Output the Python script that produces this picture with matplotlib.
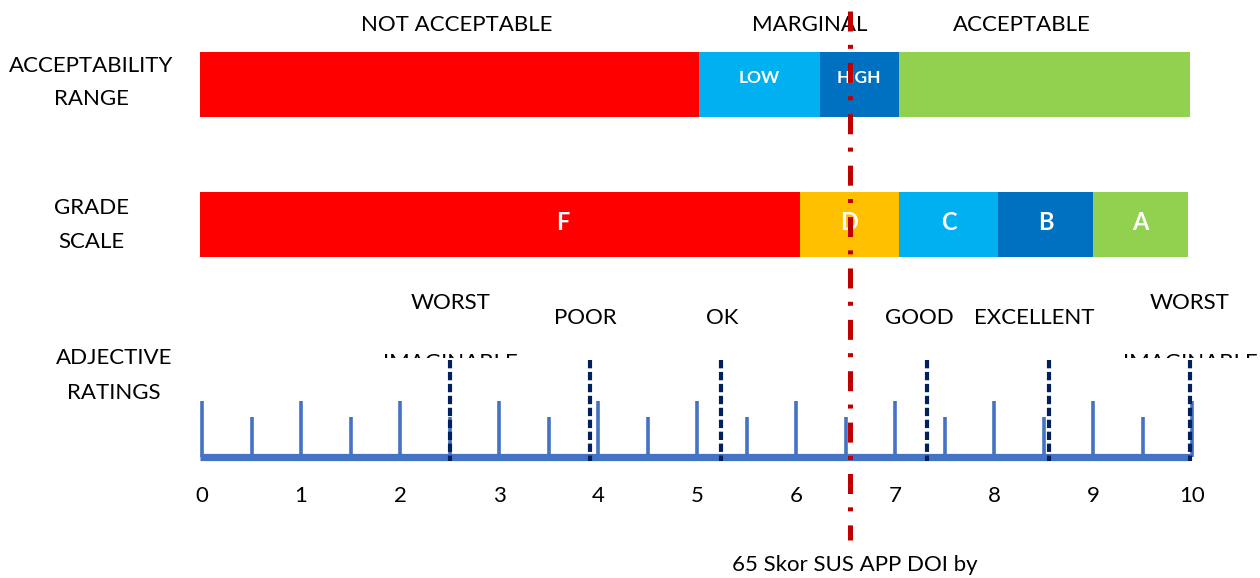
import matplotlib
matplotlib.use("Agg")
import matplotlib.pyplot as plt
from matplotlib.transforms import Bbox

plt.rcParams['font.family'] = ['Lato', 'DejaVu Sans']
plt.rcParams['lines.scale_dashes'] = False

# ---------------- data (SUS score units, 0-100) ----------------
accept_edges = [-0.2, 50.2, 62.4, 70.4, 99.8]
accept_colors = ['#FF0000', '#00B0F0', '#0070C0', '#92D050']
accept_inner = ['', 'LOW', 'HIGH', '']
accept_titles = ['NOT ACCEPTABLE', 'MARGINAL', 'ACCEPTABLE']
accept_title_x = [25.7, 61.4, 82.8]

grade_edges = [-0.2, 60.4, 70.4, 80.4, 90.0, 99.6]
grades = ['F', 'D', 'C', 'B', 'A']
grade_colors = ['#FF0000', '#FFC000', '#00B0F0', '#0070C0', '#92D050']
grade_label_x = [36.4, 65.4, 75.4, 85.2, 94.8]

tick_major = list(range(0, 101, 10))
tick_minor = list(range(5, 100, 10))
tick_labels = [str(v) for v in range(11)]

adjectives = ['WORST', 'POOR', 'OK', 'GOOD', 'EXCELLENT', 'WORST']
adjectives_second = ['IMAGINABLE', '', '', '', '', 'IMAGINABLE']
adjective_line_x = [25.1, 39.2, 52.4, 73.2, 85.6, 99.8]
adjective_label_x = [25.1, 38.7, 52.5, 72.5, 84.1, 99.8]

row_titles = [['ACCEPTABILITY', 'RANGE'], ['GRADE', 'SCALE'], ['ADJECTIVE', 'RATINGS']]

app_score = 65.5
app_label = '65 Skor SUS APP DOI by'

# ---------------- figure ----------------
W, H, DPI = 1260, 578, 100
fig = plt.figure(figsize=(W / DPI, H / DPI), dpi=DPI)
ax = fig.add_axes([0, 0, 1, 1])
PX0, PXU = 202.0, 9.9  # pixel of score 0, pixels per score unit
ax.set_xlim((0 - PX0) / PXU, (W - PX0) / PXU)
ax.set_ylim(H, 0)
ax.axis('off')

FS = 16
txt = dict(fontsize=FS, color='black', ha='center', va='center')

# row titles (left)
title_x = [(91.5 - PX0) / PXU, (91 - PX0) / PXU, (114 - PX0) / PXU]
title_y = [(66, 99), (208, 242), (358, 393)]
for lines, xx, yy in zip(row_titles, title_x, title_y):
    for s, y in zip(lines, yy):
        ax.text(xx, y, s, **txt)

# acceptability bar
for i, c in enumerate(accept_colors):
    l, r = accept_edges[i], accept_edges[i + 1]
    ax.barh(84.5, r - l, left=l, height=65, color=c, linewidth=0, zorder=2)
    if accept_inner[i]:
        ax.text((l + r) / 2, 78, accept_inner[i], fontsize=12.5, fontweight='bold',
                color='white', ha='center', va='center', zorder=3)
for s, xx in zip(accept_titles, accept_title_x):
    ax.text(xx, 25, s, **txt)

# grade bar
for i, c in enumerate(grade_colors):
    l, r = grade_edges[i], grade_edges[i + 1]
    ax.barh(224.5, r - l, left=l, height=65, color=c, linewidth=0, zorder=2)
    ax.text(grade_label_x[i], 222.5, grades[i], fontsize=17, fontweight='bold',
            color='white', ha='center', va='center', zorder=3)

# ruler
ruler_col = '#4472C4'
ax.hlines(457, -0.2, 99.8, color=ruler_col, lw=5.2, zorder=2)
ax.vlines(tick_major, 401, 457, color=ruler_col, lw=2.6, zorder=2)
ax.vlines(tick_minor, 417, 457, color=ruler_col, lw=2.6, zorder=2)
for v, s in zip(tick_major, tick_labels):
    ax.text(v, 496, s, **txt)

# adjective dashed lines and labels
clip = Bbox.from_extents(0, H - 358, W, H)
for i, name in enumerate(adjectives):
    ax.plot([adjective_line_x[i]] * 2, [360, 461], color='#002060', lw=3.0,
            dashes=(6.0, 2.6), zorder=4, solid_capstyle='butt', dash_capstyle='butt')
    y = 303 if adjectives_second[i] else 318
    ax.text(adjective_label_x[i], y, name, **txt)
    if adjectives_second[i]:
        t = ax.text(adjective_label_x[i], 363, adjectives_second[i], **txt)
        t.set_clip_box(clip)
        t.set_clip_on(True)

# application score line
ax.plot([app_score, app_score], [11, 540], color='#C00000', lw=3.6,
        dashes=(14.4, 9.6, 2.9, 10.1), dash_capstyle='butt', zorder=6)
ax.text(app_score + 0.45, 565, app_label, **txt)

fig.savefig('out.png', dpi=DPI)
